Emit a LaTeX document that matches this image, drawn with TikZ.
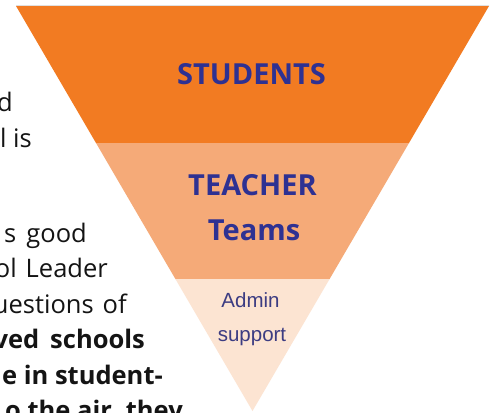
\documentclass[tikz,border=0pt]{standalone}
\usepackage{fontspec}
\setmainfont{Open Sans}
\newfontfamily\labelfont{Open Sans}
\newfontfamily\arialfont{Liberation Sans}
\definecolor{bandA}{HTML}{F27B22}
\definecolor{bandB}{HTML}{F5AA78}
\definecolor{bandC}{HTML}{FCE4D2}
\definecolor{navy}{HTML}{2E3192}
\definecolor{adminblue}{HTML}{3C3C82}
\definecolor{bodyink}{HTML}{141414}
\tikzset{
  biglabel/.style={anchor=base, inner sep=0pt, text=navy, font=\labelfont\bfseries\fontsize{29}{34}\selectfont},
  smalllabel/.style={anchor=base, inner sep=0pt, text=adminblue, font=\arialfont\fontsize{20.5}{24}\selectfont},
  bodytext/.style={anchor=base east, inner sep=0pt, text=bodyink, font=\fontsize{25.5}{30}\selectfont},
  boldtext/.style={bodytext, font=\bfseries\fontsize{25.5}{30}\selectfont}
}
\begin{document}
\begin{tikzpicture}[x=1pt,y=-1pt]
\useasboundingbox (0,0) rectangle (492,412);
\fill[white] (0,0) rectangle (492,412);
% left running text (cut off by the page)
\node[bodytext] (l1) at (13,111) {d};
\node[bodytext] (l2) at (32,147) {l is};
\node[bodytext] (l3) at (87,242) {s\hspace{10pt}good};
\node[bodytext] (l4) at (108,277.5) {ol\hspace{9pt}Leader};
\node[bodytext] (l5) at (127,313) {uestions\hspace{9pt}of};
\node[boldtext] (l6) at (145,348.5) {ved\hspace{11pt}schools};
\node[boldtext] (l7) at (163,384) {e in student-};
\node[boldtext] (l8) at (183,419.5) {o the air, they};
% inverted triangle
\coordinate (tl) at (16,6);
\coordinate (tr) at (489,6);
\coordinate (ml1) at (96,143);
\coordinate (mr1) at (409,143);
\coordinate (ml2) at (175.4,279);
\coordinate (mr2) at (329.6,279);
\coordinate (tip) at (252.5,411);
\fill[bandA] (tl) -- (tr) -- (mr1) -- (ml1) -- cycle;
\fill[bandB] (ml1) -- (mr1) -- (mr2) -- (ml2) -- cycle;
\fill[bandC] (ml2) -- (mr2) -- (tip) -- cycle;
\draw[black!12, line width=0.8pt] ([yshift=0.6pt]tl) -- ([yshift=0.6pt]tr);
% labels
\node[biglabel] (students) at (251.5,84.5) {STUDENTS};
\node[biglabel] (teacher) at (252.5,195) {TEACHER};
\node[biglabel] (teams) at (254,240) {Teams};
\node[smalllabel] (admin) at (250.5,307) {Admin};
\node[smalllabel] (support) at (252,341) {support};
\end{tikzpicture}
\end{document}
